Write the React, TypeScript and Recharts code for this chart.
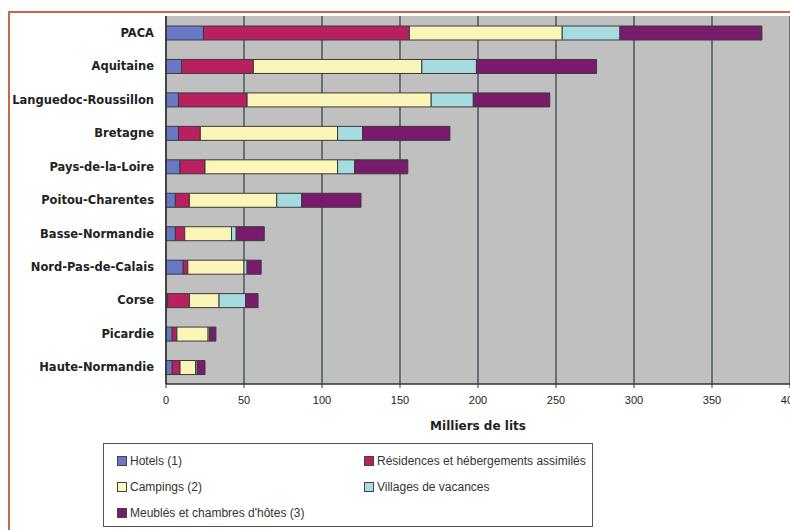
import React from "react";
import { BarChart, Bar, XAxis, YAxis, CartesianGrid } from "recharts";

const regions = [
  "PACA",
  "Aquitaine",
  "Languedoc-Roussillon",
  "Bretagne",
  "Pays-de-la-Loire",
  "Poitou-Charentes",
  "Basse-Normandie",
  "Nord-Pas-de-Calais",
  "Corse",
  "Picardie",
  "Haute-Normandie",
];

const hotels = [24, 10, 8, 8, 9, 6, 6, 11, 1, 4, 4];
const residences = [132, 46, 44, 14, 16, 9, 6, 3, 14, 3, 5];
const campings = [98, 108, 118, 88, 85, 56, 30, 36, 19, 20, 10];
const villages = [37, 35, 27, 16, 11, 16, 3, 2, 17, 1, 1];
const meubles = [91, 77, 49, 56, 34, 38, 18, 9, 8, 4, 5];

const xTicks = [0, 50, 100, 150, 200, 250, 300, 350, 400];

const series = [
  { key: "hotels", label: "Hotels (1)", color: "#6878c4" },
  { key: "residences", label: "Résidences et hébergements assimilés", color: "#b82060" },
  { key: "campings", label: "Campings (2)", color: "#fbf5b8" },
  { key: "villages", label: "Villages de vacances", color: "#a6dbe0" },
  { key: "meubles", label: "Meublés et chambres d'hôtes (3)", color: "#7a1a6c" },
];

const data = regions.map((region, i) => ({
  region,
  hotels: hotels[i],
  residences: residences[i],
  campings: campings[i],
  villages: villages[i],
  meubles: meubles[i],
}));

function LegendBox() {
  const item = (s: { label: string; color: string }) => (
    <div style={{ display: "flex", alignItems: "center", height: 26 }}>
      <span
        style={{
          display: "inline-block",
          width: 8,
          height: 8,
          background: s.color,
          border: "1px solid #444",
          marginRight: 3,
        }}
      />
      <span>{s.label}</span>
    </div>
  );
  return (
    <div
      style={{
        position: "absolute",
        left: 103,
        top: 443,
        width: 490,
        height: 84,
        border: "1px solid #555",
        background: "#fff",
        fontFamily: "'Liberation Sans', Arial, sans-serif",
        fontSize: 12,
        color: "#333",
        boxSizing: "border-box",
        padding: "4px 0 0 13px",
        display: "grid",
        gridTemplateColumns: "247px 230px",
      }}
    >
      {item(series[0])}
      {item(series[1])}
      {item(series[2])}
      {item(series[3])}
      {item(series[4])}
    </div>
  );
}

export default function App() {
  return (
    <div
      style={{
        position: "absolute",
        left: 0,
        top: 0,
        width: 790,
        height: 530,
        overflow: "hidden",
        background: "#fff",
      }}
    >
      <div
        style={{
          position: "absolute",
          left: 8,
          top: 11,
          width: 800,
          height: 540,
          borderLeft: "2px solid #c4694e",
          borderTop: "2px solid #c4694e",
        }}
      />
      <div style={{ position: "absolute", left: 0, top: 0 }}>
        <BarChart
          width={820}
          height={434}
          data={data}
          layout="vertical"
          margin={{ top: 16, right: 30, bottom: 0, left: 0 }}
          barSize={14}
        >
          <CartesianGrid
            horizontal={false}
            vertical={true}
            fill="#c0c0c0"
            stroke="#4a565c"
            strokeWidth={1.5}
          />
          <XAxis
            type="number"
            domain={[0, 400]}
            ticks={xTicks}
            height={50}
            axisLine={{ stroke: "#333", strokeWidth: 1.5 }}
            tickLine={{ stroke: "#333" }}
            tickSize={4}
            tickMargin={8}
            tick={{ fontSize: 11, fill: "#222", fontFamily: "'Liberation Sans', Arial, sans-serif" }}
            label={{
              value: "Milliers de lits",
              position: "insideBottom",
              offset: 4,
              style: {
                fontSize: 12,
                fontWeight: "bold",
                fill: "#222",
                fontFamily: "'DejaVu Sans', sans-serif",
              },
            }}
          />
          <YAxis
            type="category"
            dataKey="region"
            width={166}
            axisLine={{ stroke: "#333", strokeWidth: 1.5 }}
            tickLine={false}
            tickMargin={6}
            tick={{
              fontSize: 11.5,
              fontWeight: "bold",
              fill: "#222",
              fontFamily: "'DejaVu Sans', sans-serif",
            }}
            interval={0}
          />
          {series.map((s) => (
            <Bar
              key={s.key}
              dataKey={s.key}
              stackId="a"
              fill={s.color}
              stroke="#3a3a3a"
              strokeWidth={1}
              isAnimationActive={false}
            />
          ))}
        </BarChart>
      </div>
      <LegendBox />
    </div>
  );
}
